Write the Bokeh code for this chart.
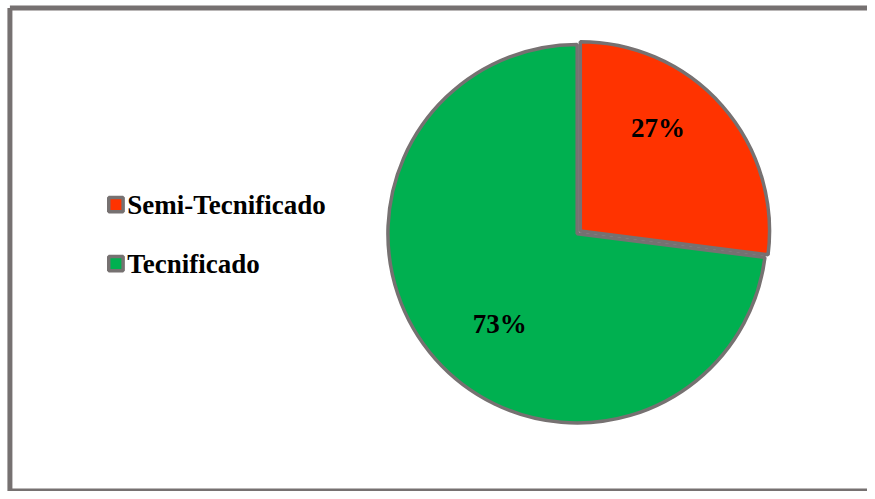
import math
from bokeh.plotting import figure
from bokeh.models import Range1d, ColumnDataSource
from bokeh.core.properties import value
from bokeh.embed import file_html
from bokeh.resources import INLINE

# ---- data ----
categories = ["Semi-Tecnificado", "Tecnificado"]
percents = [27, 73]
colors = ["#FF3300", "#00B050"]
labels = ["27%", "73%"]

# ---- layout: data space spans the reference picture (875 x 499) ----
REF_W, REF_H = 875, 499
W, H = 867, 491
BORDER = "#767171"
FONT = "Liberation Serif"
FS = "27px"

p = figure(width=W, height=H, output_backend="svg", toolbar_location=None,
           x_range=Range1d(0, REF_W), y_range=Range1d(0, REF_H),
           min_border=0, outline_line_color=None, background_fill_color="white",
           border_fill_color="white")
p.axis.visible = False
p.xgrid.visible = False
p.ygrid.visible = False

def sy(y_screen):
    return REF_H - y_screen

# chart frame (right edge falls outside the picture)
p.segment(x0=[9.5, 9.5, 9.5], y0=[sy(7.5), sy(7.5), sy(498.5)],
          x1=[9.5, 900, 900], y1=[sy(498.5), sy(7.5), sy(498.5)],
          line_color=BORDER, line_width=5)

# pie
cx, cy, r = 582, sy(237), 191
explode = [4.2, 0]
label_frac = [0.683, 0.632]     # label distance from centre (fraction of radius)
label_turn = [11.7, 8.3]        # label angular offset from slice middle (deg)
start_deg = 90.0
total = sum(percents)
starts, ends, xs, ys, lx, ly = [], [], [], [], [], []
cum = 0
for pct, ex, lf, lt in zip(percents, explode, label_frac, label_turn):
    a0 = start_deg - 360.0 * (cum + pct) / total
    a1 = start_deg - 360.0 * cum / total
    mid = math.radians((a0 + a1) / 2)
    ox, oy = cx + ex * math.cos(mid), cy + ex * math.sin(mid)
    starts.append(math.radians(a0)); ends.append(math.radians(a1))
    xs.append(ox); ys.append(oy)
    la = mid + math.radians(lt)
    lx.append(ox + lf * r * math.cos(la)); ly.append(oy + lf * r * math.sin(la))
    cum += pct

src = ColumnDataSource(dict(lx=lx, ly=ly, t=labels))
for i in [1, 0]:
    p.wedge(x=xs[i], y=ys[i], radius=r, start_angle=starts[i], end_angle=ends[i],
            direction="anticlock", fill_color=colors[i], line_color=BORDER, line_width=3.5)

p.text(x="lx", y="ly", text="t", source=src, text_font=value(FONT),
       text_font_style="bold", text_font_size=FS, text_color="black",
       text_align="center", text_baseline="middle")

# legend
p.rect(x=[116.5] * 2, y=[sy(207.5), sy(267.5)], width=14.5, height=14.5, fill_color=colors,
       line_color=BORDER, line_width=3.5)
p.text(x=[128] * 2, y=[sy(207.5), sy(267.5)], text=categories, text_font=value(FONT),
       text_font_style="bold", text_font_size=FS, text_color="black",
       text_align="left", text_baseline="middle")

open("out.html", "w").write(file_html(p, INLINE))
